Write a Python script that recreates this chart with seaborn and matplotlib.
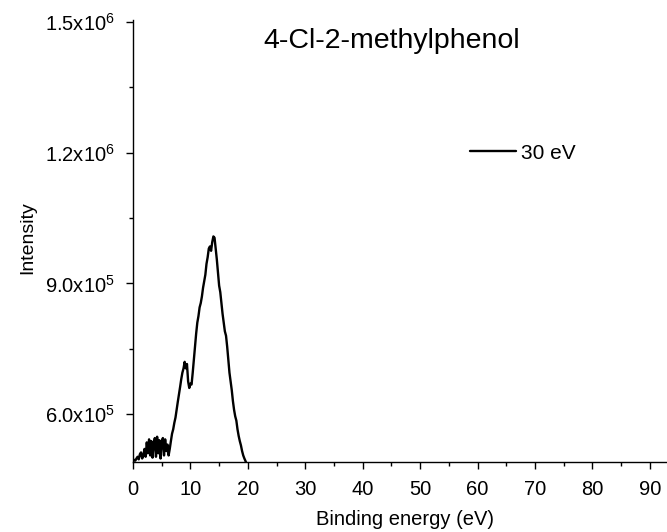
import numpy as np
import matplotlib
matplotlib.use("Agg")
import matplotlib.pyplot as plt
import seaborn as sns
from matplotlib.ticker import FuncFormatter, MultipleLocator

# Photoelectron spectrum, 30 eV photon energy (intensity in units of 1e5)
binding_energy = [
    0.0, 0.2, 0.4, 0.6, 0.8, 1.0, 1.2, 1.4, 1.6, 1.8,
    2.0, 2.2, 2.4, 2.6, 2.8, 3.0, 3.2, 3.4, 3.6, 3.8,
    4.0, 4.2, 4.4, 4.6, 4.8, 5.0, 5.2, 5.4, 5.6, 5.8,
    6.0, 6.2, 6.4, 6.6, 6.8, 7.0, 7.2, 7.4, 7.6, 7.8,
    8.0, 8.2, 8.4, 8.6, 8.8, 9.0, 9.2, 9.4, 9.6, 9.8,
    10.0, 10.2, 10.4, 10.6, 10.8, 11.0, 11.2, 11.4, 11.6, 11.8,
    12.0, 12.2, 12.4, 12.6, 12.8, 13.0, 13.2, 13.4, 13.6, 13.8,
    14.0, 14.2, 14.4, 14.6, 14.8, 15.0, 15.2, 15.4, 15.6, 15.8,
    16.0, 16.2, 16.4, 16.6, 16.8, 17.0, 17.2, 17.4, 17.6, 17.8,
    18.0, 18.2, 18.4, 18.6, 18.8, 19.0, 19.2, 19.4, 19.6, 19.8,
]
intensity_e5 = [
    4.92, 4.95, 4.93, 4.98, 5.02, 4.96, 5.08, 5.12, 4.98, 5.05,
    5.20, 5.02, 5.35, 5.10, 5.42, 5.05, 5.38, 5.00, 5.30, 5.45,
    5.02, 5.48, 5.10, 5.40, 4.98, 5.35, 5.45, 5.05, 5.42, 5.15,
    5.30, 5.05, 5.20, 5.38, 5.55, 5.65, 5.80, 5.92, 6.10, 6.28,
    6.45, 6.62, 6.80, 6.95, 7.05, 7.20, 7.05, 7.15, 6.75, 6.60,
    6.70, 6.68, 6.95, 7.25, 7.55, 7.85, 8.10, 8.25, 8.45, 8.55,
    8.70, 8.90, 9.05, 9.20, 9.45, 9.60, 9.80, 9.85, 9.75, 9.95,
    10.08, 10.05, 9.80, 9.55, 9.25, 8.95, 8.80, 8.55, 8.30, 8.10,
    7.90, 7.80, 7.55, 7.25, 6.95, 6.75, 6.55, 6.30, 6.10, 5.95,
    5.85, 5.65, 5.50, 5.38, 5.28, 5.15, 5.05, 4.98, 4.92, 4.85,
]
series_label = "30 eV"
title = "4-Cl-2-methylphenol"

sns.set_style("ticks")
plt.rcParams["font.family"] = ["Liberation Sans", "DejaVu Sans"]
plt.rcParams["mathtext.default"] = "regular"
for key in ["text.color", "axes.labelcolor", "xtick.color", "ytick.color",
            "axes.edgecolor"]:
    plt.rcParams[key] = "black"

fig = plt.figure(figsize=(6.67, 5.32), dpi=100)
ax = fig.add_axes([0.1994, 0.1316, 0.8006, 0.8308])

sns.lineplot(x=binding_energy, y=np.array(intensity_e5) * 1e5, color="black",
             linewidth=1.7, label=series_label, ax=ax)

ax.set_xlim(0, 93)
ax.set_ylim(4.9e5, 1.505e6)
ax.xaxis.set_major_locator(MultipleLocator(10))
ax.xaxis.set_minor_locator(MultipleLocator(5))
ax.set_yticks([6e5, 9e5, 1.2e6, 1.5e6])
ax.set_yticks([7.5e5, 1.05e6, 1.35e6], minor=True)


def sci_label(v, pos):
    exp = int(np.floor(np.log10(v)))
    mant = v / 10 ** exp
    return f"{mant:.1f}x10$^{{{exp}}}$"


ax.yaxis.set_major_formatter(FuncFormatter(sci_label))
ax.tick_params(axis="both", which="major", direction="out", length=5, width=1,
               labelsize=14.5)
ax.tick_params(axis="y", which="major", pad=8)
ax.tick_params(axis="x", which="major", pad=8)
ax.tick_params(axis="both", which="minor", direction="out", length=3, width=1)
for side in ["left", "bottom"]:
    ax.spines[side].set_linewidth(1)
sns.despine(ax=ax)

ax.set_xlabel("Binding energy (eV)", fontsize=14.5)
ax.set_ylabel("Intensity", fontsize=14)
ax.xaxis.set_label_coords(0.509, -0.108)
ax.yaxis.set_label_coords(-0.182, 0.507)
ax.text(0.485, 0.937, title, transform=ax.transAxes, ha="center", va="baseline",
        fontsize=20.5)

ax.legend(loc="center left", bbox_to_anchor=(0.631, 0.699), frameon=False,
          fontsize=15, handlelength=2.2, handletextpad=0.25, borderpad=0,
          borderaxespad=0)

fig.savefig("out.png", dpi=100)
